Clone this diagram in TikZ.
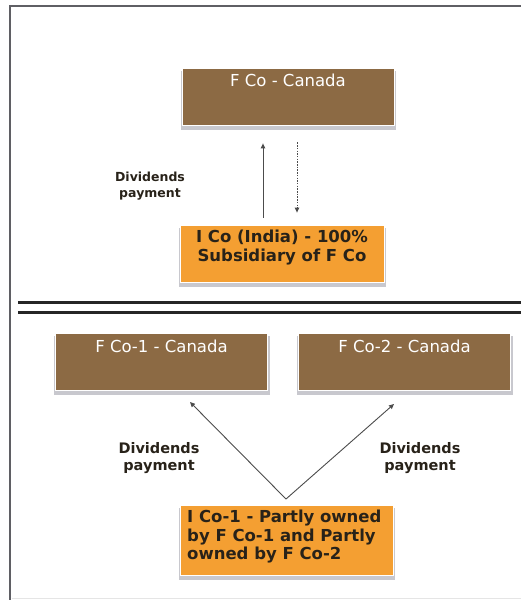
\documentclass[tikz,border=0pt]{standalone}
\usepackage{fontspec}
\setmainfont{DejaVu Sans}
\usetikzlibrary{arrows.meta}
\definecolor{boxbrown}{RGB}{140,106,68}
\definecolor{boxorange}{RGB}{244,159,50}
\definecolor{shadowgray}{RGB}{200,200,206}
\definecolor{framegray}{RGB}{95,95,100}
\definecolor{inktext}{RGB}{40,34,25}
\tikzset{
  x=1pt, y=-1pt,
  box/.style={draw=white, line width=0.8pt, inner sep=0pt, minimum width=#1, minimum height=57pt},
  brownbox/.style={box=212pt, fill=boxbrown},
  orangebox/.style={box=#1, fill=boxorange},
  titletext/.style={text=white, font=\fontsize{16.5}{18}\selectfont, inner sep=0pt},
  darktext/.style={text=inktext, font=\bfseries\fontsize{16.5}{18.5}\selectfont, inner sep=0pt},
  smalllabel/.style={text=inktext, font=\bfseries\fontsize{12.5}{16.5}\selectfont, align=center, inner sep=0pt},
  biglabel/.style={text=inktext, font=\bfseries\fontsize{14.5}{17}\selectfont, align=center, inner sep=0pt},
  arr/.style={-{Triangle[length=5pt,width=4.5pt]}, line width=1pt, draw=black!70},
  dotarr/.style={arr, dash pattern=on 1.5pt off 1.2pt},
  rule/.style={line width=3pt, draw=black!85},
}
% soft grey shadow under a box given by its corners
\newcommand{\boxshadow}[4]{\fill[shadowgray] (#1-1,#2+3) rectangle (#3+2,#4+5);}
\begin{document}
\begin{tikzpicture}
\useasboundingbox (0,0) rectangle (521,600);
\fill[white] (0,0) rectangle (521,600);

% outer frame
\draw[framegray, line width=2pt] (10,600) -- (10,6) -- (521,6);
\draw[black!10, line width=1pt] (12,598) -- (521,598);

% upper case: single parent
\boxshadow{182}{68}{394}{125}
\node[brownbox] (fco) at (288,96.5) {};
\node[titletext, anchor=center] (fcot) at (288,80) {F Co - Canada};

\boxshadow{180}{225}{384}{282}
\node[orangebox=204pt] (ico) at (282,253.5) {};
\node[darktext, align=center, anchor=north] (icot) at (282,230)
  {I Co (India) - 100\%\\Subsidiary of F Co};

\coordinate (upx) at (263,0);
\coordinate (downx) at (297,0);
\draw[arr] ([yshift=7pt]ico.north -| upx) -- ([yshift=-18pt]fco.south -| upx);
\draw[dotarr] ([yshift=-17pt]fco.south -| downx) -- ([yshift=12pt]ico.north -| downx);

\node[smalllabel] (div0) at (150,186) {Dividends\\payment};

% separator
\draw[rule] (18,302) -- (521,302);
\draw[rule] (18,312) -- (521,312);

% lower case: two parents
\boxshadow{55}{333}{268}{390}
\node[brownbox] (fco1) at (161.5,361.5) {};
\node[titletext] (fco1t) at (161.5,346) {F Co-1 - Canada};

\boxshadow{298}{333}{511}{390}
\node[brownbox] (fco2) at (404.5,361.5) {};
\node[titletext] (fco2t) at (404.5,346) {F Co-2 - Canada};

\boxshadow{180}{505}{393}{575}
\node[orangebox=213pt, minimum height=70pt] (ico1) at (286.5,540) {};
\node[darktext, align=left, anchor=north west] (ico1t) at (187,510)
  {I Co-1 - Partly owned\\by F Co-1 and Partly\\owned by F Co-2};

\coordinate (apex) at (286,499);
\coordinate (tip1) at (190,402);
\coordinate (tip2) at (394,404);
\draw[arr, line width=0.9pt] (apex) -- (tip1);
\draw[arr, line width=0.9pt] (apex) -- (tip2);

\node[biglabel] (div1) at (159,458) {Dividends\\payment};
\node[biglabel] (div2) at (420,458) {Dividends\\payment};
\end{tikzpicture}
\end{document}
